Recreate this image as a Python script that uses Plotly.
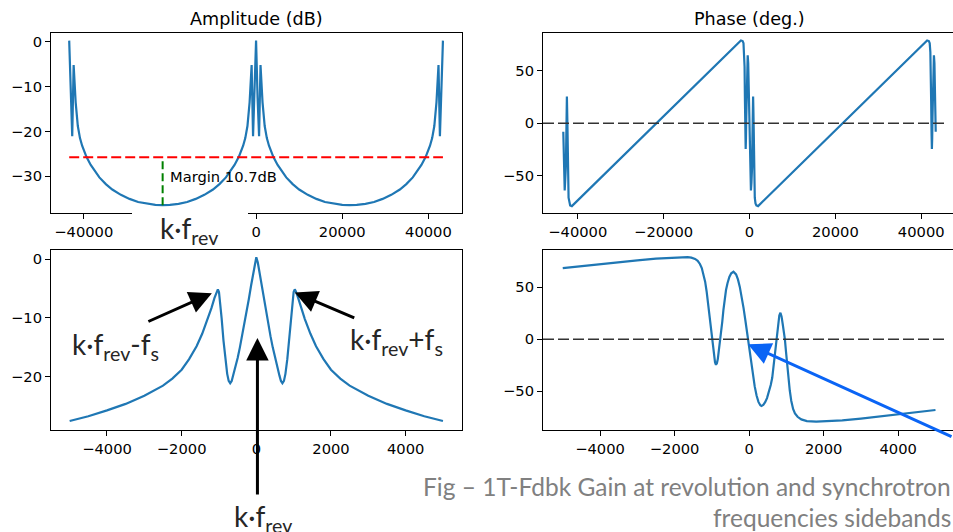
import plotly.graph_objects as go

W, H = 953, 532

# ---------------- data ----------------
amp_full_x = [-43375, -43025, -42675, -42345, -41875, -41375, -40875, -40375, -39875, -39375,
              -38375, -37375, -36375, -34875, -33375, -31375, -29375, -27375, -25375, -23375,
              -21687, -20000, -18000, -16000, -14000, -12000, -10000, -8500, -7000, -6000,
              -5000, -4000, -3500, -3000, -2500, -2000, -1500, -1030, -700, -350,
              0, 350, 700, 1030, 1500, 2000, 2500, 3000, 3500, 4000,
              5000, 6000, 7000, 8500, 10000, 12000, 14000, 16000, 18000, 20000,
              21687, 23375, 25375, 27375, 29375, 31375, 33375, 34875, 36375, 37375,
              38375, 39375, 39875, 40375, 40875, 41375, 41875, 42345, 42675, 43025, 43375]
amp_full_db = [0.3, -12.5, -21.1, -5.15, -13.5, -18.8, -21.5, -23.2, -24.6, -25.7,
               -27.5, -29.0, -30.3, -31.8, -33.0, -34.2, -35.1, -35.8, -36.2, -36.45,
               -36.5, -36.45, -36.2, -35.8, -35.1, -34.2, -33.0, -31.8, -30.3, -29.0,
               -27.5, -25.7, -24.6, -23.2, -21.5, -18.8, -13.5, -5.15, -21.1, -12.5,
               0.3, -12.5, -21.1, -5.15, -13.5, -18.8, -21.5, -23.2, -24.6, -25.7,
               -27.5, -29.0, -30.3, -31.8, -33.0, -34.2, -35.1, -35.8, -36.2, -36.45,
               -36.5, -36.45, -36.2, -35.8, -35.1, -34.2, -33.0, -31.8, -30.3, -29.0,
               -27.5, -25.7, -24.6, -23.2, -21.5, -18.8, -13.5, -5.15, -21.1, -12.5, 0.3]

phase_full_x = [-43375, -43225, -43045, -42775, -42635, -42535, -42415, -42285, -42145, -41775, -41375,
                -2000, -1600, -1400, -1250, -1150, -1060, -970, -890, -820, -750, -620, -500, -420,
                -300, -170, -80, 0, 110, 220, 330, 450, 600, 680, 740, 790, 840, 890, 960, 1030,
                1090, 1160, 1230, 1400, 1600, 2000,
                41375, 41775, 41975, 42125, 42225, 42315, 42405, 42485, 42555, 42625, 42755,
                42875, 42955, 43075, 43205, 43295, 43375]
phase_full_deg = [-8, -45, -64, -42, 6, 25.6, 0, -49, -71, -78.3, -79,
                  79, 78.5, 76.5, 68, 54, 21, -10, -24.5, -14, 6, 47, 63.5, 65,
                  57.6, 35, 15, -8, -42, -60, -64, -57, -42, -15, 6, 22, 25.6, 16, 0, -30,
                  -49, -64, -71, -76.5, -78.3, -79,
                  79, 78.5, 76.5, 68, 54, 21, -10, -24.5, -14, 6, 47,
                  63.5, 65, 57.6, 35, 15, -8]

amp_zoom_x = [-5000, -4500, -4000, -3500, -3000, -2500, -2250, -2000, -1800, -1600, -1450, -1300,
              -1200, -1120, -1060, -1030, -1000, -970, -930, -880, -830, -780, -740, -700,
              -660, -620, -560, -500, -440, -380, -320, -260, -200, -140, -80, -40,
              0, 40, 80, 140, 200, 260, 320, 380, 440, 500, 560, 620, 660,
              700, 740, 780, 830, 880, 930, 970, 1000, 1030, 1060, 1120, 1200,
              1300, 1450, 1600, 1800, 2000, 2250, 2500, 3000, 3500, 4000, 4500, 5000]
amp_zoom_db = [-27.5, -26.7, -25.7, -24.6, -23.2, -21.5, -20.3, -18.8, -17.0, -14.8, -12.7, -10.2,
               -8.3, -6.6, -5.5, -5.15, -5.6, -7.2, -10.0, -13.8, -17.0, -19.5, -20.7, -21.1,
               -20.7, -19.8, -18.3, -16.8, -15.0, -13.1, -11.1, -9.0, -6.8, -4.5, -2.1, -0.6,
               0.3, -0.6, -2.1, -4.5, -6.8, -9.0, -11.1, -13.1, -15.0, -16.8, -18.3, -19.8, -20.7,
               -21.1, -20.7, -19.5, -17.0, -13.8, -10.0, -7.2, -5.6, -5.15, -5.5, -6.6, -8.3,
               -10.2, -12.7, -14.8, -17.0, -18.8, -20.3, -21.5, -23.2, -24.6, -25.7, -26.7, -27.5]

phase_zoom_x = [-5000, -4500, -4000, -3500, -3000, -2500, -2000, -1800, -1650, -1550, -1450, -1380,
                -1320, -1270, -1220, -1180, -1140, -1100, -1060, -1020, -980, -945, -915, -890,
                -865, -840, -810, -780, -750, -720, -690, -650, -620, -580, -530, -480, -420,
                -350, -300, -250, -200, -150, -100, -50, -30, 0, 50, 100, 150, 200, 250, 300,
                330, 380, 430, 480, 530, 580, 620, 660, 700, 740, 780, 810, 840, 870, 900, 930,
                960, 990, 1030, 1060, 1090, 1130, 1180, 1230, 1300, 1400, 1550, 1800, 2000,
                2500, 3000, 3500, 4000, 4500, 5000]
phase_zoom_deg = [68.5, 70.5, 72.5, 74.3, 76, 77.6, 78.8, 79.1, 79, 78.5, 77.3, 75.5,
                  72.5, 68.5, 62.5, 55.5, 46, 34, 21, 7, -6, -16, -22, -24.5,
                  -23, -19, -11, -3, 6, 17, 28, 40, 47.4, 54, 60, 63.5, 65,
                  62.4, 57.6, 50.4, 41.1, 30.3, 18.1, 5.2, 0, -8.4, -21.9, -34.4, -45.3, -54, -60.2, -63.4,
                  -64, -63, -60.5, -56.5, -50.5, -44, -37, -24, -9, 5.5, 17, 23, 25.6, 22, 15, 8,
                  0, -12, -28, -40, -49, -59, -67, -71.2, -74.5, -77, -78.6, -79.2, -79,
                  -78, -76.2, -74.2, -72.2, -70.1, -68]

threshold_db = -25.8
margin_x = -21687
margin_bottom_db = -36.5
margin_text = "Margin 10.7dB"

full_tickvals = [-40000, -20000, 0, 20000, 40000]
full_ticktext = ["\u221240000", "\u221220000", "0", "20000", "40000"]
zoom_tickvals = [-4000, -2000, 0, 2000, 4000]
zoom_ticktext = ["\u22124000", "\u22122000", "0", "2000", "4000"]
amp_full_yvals = [0, -10, -20, -30]
amp_full_ytext = ["0", "\u221210", "\u221220", "\u221230"]
amp_zoom_yvals = [0, -10, -20]
amp_zoom_ytext = ["0", "\u221210", "\u221220"]
phase_yvals = [50, 0, -50]
phase_ytext = ["50", "0", "\u221250"]

# ---------------- figure ----------------
C0 = "#1f77b4"
MPL = dict(family="DejaVu Sans", size=14.7, color="black")
SLIDE = "Lato"

fig = go.Figure()
fig.add_trace(go.Scatter(x=amp_full_x, y=amp_full_db, mode="lines",
                         line=dict(color=C0, width=2.2), xaxis="x", yaxis="y"))
fig.add_trace(go.Scatter(x=[amp_full_x[0], amp_full_x[-1]], y=[threshold_db, threshold_db], mode="lines",
                         line=dict(color="red", width=2, dash="10px,4px"), xaxis="x", yaxis="y"))
fig.add_trace(go.Scatter(x=[margin_x, margin_x], y=[margin_bottom_db, threshold_db], mode="lines",
                         line=dict(color="green", width=2, dash="8px,4px"), xaxis="x", yaxis="y"))
fig.add_trace(go.Scatter(x=phase_full_x, y=phase_full_deg, mode="lines",
                         line=dict(color=C0, width=2.2), xaxis="x2", yaxis="y2"))
fig.add_trace(go.Scatter(x=amp_zoom_x, y=amp_zoom_db, mode="lines",
                         line=dict(color=C0, width=2.2), xaxis="x3", yaxis="y3"))
fig.add_trace(go.Scatter(x=phase_zoom_x, y=phase_zoom_deg, mode="lines",
                         line=dict(color=C0, width=2.2), xaxis="x4", yaxis="y4"))


def ax(domain, rng, tv, tt, anchor, mirror=True):
    return dict(domain=domain, range=rng, tickvals=tv, ticktext=tt, anchor=anchor,
                ticks="outside", ticklen=5, tickwidth=1, tickcolor="black",
                showline=True, linecolor="black", linewidth=1, mirror=mirror,
                showgrid=False, zeroline=False, tickfont=MPL, fixedrange=True)


xl = [51 / W, 462 / W]
xr = [543 / W, 1.0]
yt = [1 - 213 / H, 1 - 33 / H]
yb = [1 - 430 / H, 1 - 250 / H]

fig.update_layout(
    width=W, height=H, margin=dict(l=0, r=0, t=0, b=0), autosize=False,
    paper_bgcolor="white", plot_bgcolor="white", showlegend=False, hovermode=False,
    xaxis=ax(xl, [-47600, 47800], full_tickvals, full_ticktext, "y"),
    yaxis=ax(yt, [-38.26, 2.01], amp_full_yvals, amp_full_ytext, "x"),
    xaxis2=ax(xr, [-48100, 47400], full_tickvals, full_ticktext, "y2"),
    yaxis2=ax(yt, [-85.6, 86.2], phase_yvals, phase_ytext, "x2", mirror=False),
    xaxis3=ax(xl, [-5500, 5510], zoom_tickvals, zoom_ticktext, "y3"),
    yaxis3=ax(yb, [-29.03, 1.53], amp_zoom_yvals, amp_zoom_ytext, "x3"),
    xaxis4=ax(xr, [-5530, 5470], zoom_tickvals, zoom_ticktext, "y4"),
    yaxis4=ax(yb, [-87.2, 85.9], phase_yvals, phase_ytext, "x4", mirror=False),
)

# zero lines in phase plots
for xa, ya in (("x2", "y2"), ("x4", "y4")):
    fig.add_shape(type="line", xref=f"{xa} domain", yref=ya, x0=0, x1=0.985, y0=0, y1=0,
                  line=dict(color="#333333", width=1.6, dash="11px,4px"), layer="above")

# white box hiding part of the top-left x axis
fig.add_shape(type="rect", xref="paper", yref="paper", x0=132 / W, x1=248 / W,
              y0=1 - 248 / H, y1=1 - 209 / H, fillcolor="white", line=dict(width=0), layer="above")

ann = []
# titles
ann.append(dict(text="Amplitude (dB)", xref="x domain", yref="paper", x=0.5, y=1 - 19 / H,
                xanchor="center", yanchor="middle", showarrow=False,
                font=dict(family="DejaVu Sans", size=17.6, color="black")))
ann.append(dict(text="Phase (deg.)", xref="paper", yref="paper", x=749 / W, y=1 - 19 / H,
                xanchor="center", yanchor="middle", showarrow=False,
                font=dict(family="DejaVu Sans", size=17.6, color="black")))
ann.append(dict(text=margin_text, xref="x", yref="y", x=-20400, y=-30.0, xanchor="left",
                yanchor="middle", showarrow=False, font=MPL))

KF = "k\u00b7f<sub>rev</sub>"
lab_font = dict(family=SLIDE, size=28, color="#262626")
ann.append(dict(text=KF, xref="paper", yref="paper", x=158 / W, y=1 - 230 / H,
                xanchor="left", yanchor="middle", showarrow=False, font=lab_font))
ann.append(dict(text=KF + "-f<sub>s</sub>", xref="paper", yref="paper", x=70 / W, y=1 - 346 / H,
                xanchor="left", yanchor="middle", showarrow=False, font=lab_font))
ann.append(dict(text=KF + "+f<sub>s</sub>", xref="paper", yref="paper", x=348 / W, y=1 - 341 / H,
                xanchor="left", yanchor="middle", showarrow=False, font=lab_font))
ann.append(dict(text=KF, xref="paper", yref="paper", x=232 / W, y=1 - 518 / H,
                xanchor="left", yanchor="middle", showarrow=False, font=lab_font))

# arrows
arrow = dict(showarrow=True, arrowhead=2, arrowsize=1.5, arrowwidth=3, arrowcolor="black",
             text="", standoff=0, axref="pixel", ayref="pixel")
ann.append(dict(xref="x3", yref="y3", x=-1190, y=-5.8, ax=-65, ay=29, **arrow))
ann.append(dict(xref="x3", yref="y3", x=1030, y=-5.7, ax=61, ay=26, **arrow))
ann.append(dict(xref="x3", yref="y3", x=30, y=-13.4, ax=0, ay=158, **arrow))
blue = dict(arrow)
blue["arrowcolor"] = "#0a64f5"
ann.append(dict(xref="x4", yref="y4", x=-30, y=-4.8, ax=212, ay=93, **blue))

# caption
cap_font = dict(family=SLIDE, size=24.5, color="#808080")
ann.append(dict(text="Fig \u2013 1T-Fdbk Gain at revolution and synchrotron", xref="paper", yref="paper",
                x=1.0, y=1 - 486 / H, xanchor="right", yanchor="middle", showarrow=False, font=cap_font))
ann.append(dict(text="frequencies sidebands", xref="paper", yref="paper",
                x=1.0, y=1 - 517 / H, xanchor="right", yanchor="middle", showarrow=False, font=cap_font))

fig.update_layout(annotations=ann)
fig.write_html("out.html", config={"displayModeBar": False, "staticPlot": True},
               post_script="document.body.style.margin='0';document.body.style.overflow='hidden';")
